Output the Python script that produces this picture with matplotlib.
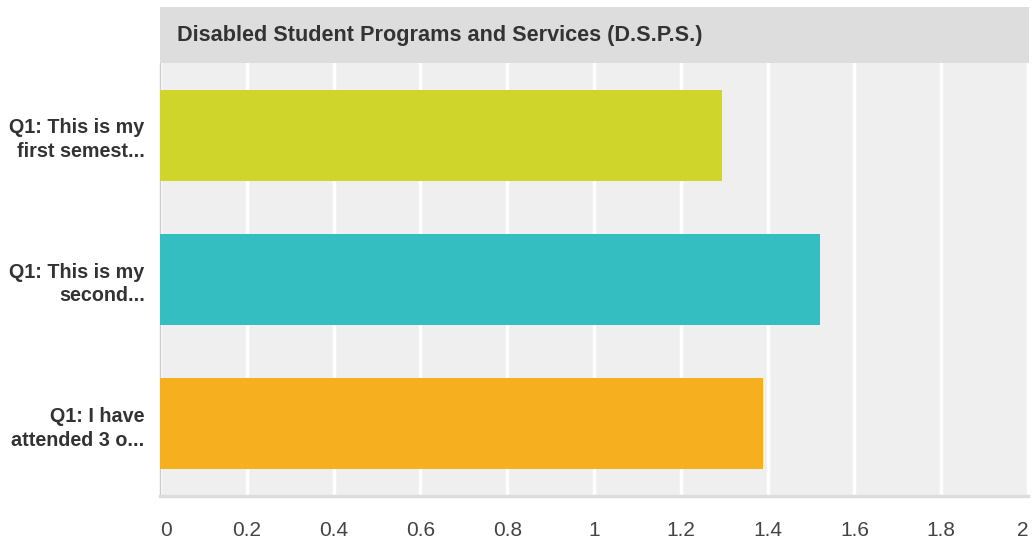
import matplotlib
matplotlib.use('Agg')
import matplotlib.pyplot as plt
from matplotlib.patches import Rectangle

# data
categories = ['Q1: This is my\nfirst semest...', 'Q1: This is my\nsecond...', 'Q1: I have\nattended 3 o...']
values = [1.295, 1.52, 1.39]
colors = ['#CFD52A', '#34BEC1', '#F6B01F']
ticks = [0, 0.2, 0.4, 0.6, 0.8, 1, 1.2, 1.4, 1.6, 1.8, 2]
tickLabels = ['0', '0.2', '0.4', '0.6', '0.8', '1', '1.2', '1.4', '1.6', '1.8', '2']
title = 'Disabled Student Programs and Services (D.S.P.S.)'

plt.rcParams['font.family'] = ['Liberation Sans', 'DejaVu Sans']

W, H = 1034, 544
fig = plt.figure(figsize=(W / 100, H / 100), dpi=100)

left, right, top, bottom = 160, 1028, 63, 496
ax = fig.add_axes([left / W, 1 - bottom / H, (right - left) / W, (bottom - top) / H])
ax.set_facecolor('#EFEFEF')

ypos = list(range(len(categories)))
ax.barh(ypos, values, height=0.63, color=colors, zorder=3)

ax.set_xlim(0, 2)
ax.set_ylim(len(categories) - 0.5, -0.5)
ax.set_xticks(ticks)
ax.set_xticklabels(tickLabels, fontsize=15, color='#444444')
ax.set_yticks(ypos)
ax.set_yticklabels(categories, fontsize=14.2, fontweight='bold', color='#333333',
                   linespacing=1.32)
ax.tick_params(axis='both', length=0)
ax.tick_params(axis='x', pad=18)
ax.tick_params(axis='y', pad=11)

xl = ax.get_xticklabels()
xl[0].set_ha('left')
xl[-1].set_ha('right')

ax.grid(axis='x', color='white', linewidth=2.5, zorder=1)
ax.set_axisbelow(True)

for s in ['top', 'right']:
    ax.spines[s].set_visible(False)
ax.spines['bottom'].set_color('#DDDDDD')
ax.spines['bottom'].set_linewidth(2.5)
ax.spines['left'].set_color('#CCCCCC')
ax.spines['left'].set_linewidth(1)

# header band with title
fig.patches.append(Rectangle((left / W, 1 - 63 / H), (1029 - left) / W, 56 / H,
                             transform=fig.transFigure, facecolor='#DDDDDD',
                             edgecolor='none', zorder=0))
fig.text(177 / W, 1 - 35 / H, title, fontsize=15.6, fontweight='bold',
         color='#333333', va='center', ha='left')

fig.savefig('out.png', dpi=100, facecolor='white')
